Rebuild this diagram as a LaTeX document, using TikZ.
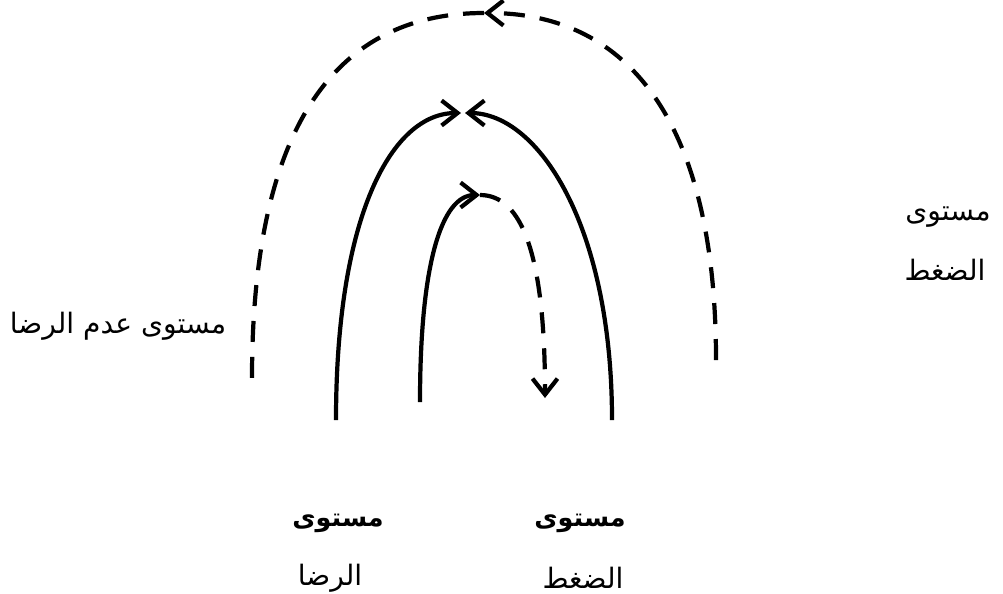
\documentclass[tikz,border=0pt]{standalone}
\usepackage{fontspec}
\newfontfamily\arabicfont[Script=Arabic]{DejaVu Sans}
\TeXXeTstate=1
\usetikzlibrary{arrows.meta,positioning}

\begin{document}
\begin{tikzpicture}[x=0.02cm, y=-0.02cm,
  curve/.style={line width=2.4pt},
  dashcurve/.style={line width=2.4pt, dash pattern=on 0.42cm off 0.3cm},
  arrow/.style={-{Straight Barb[length=0.32cm, width=0.5cm, line width=2.4pt]}},
  label/.style={font=\arabicfont\fontsize{16}{18}\selectfont, inner sep=0pt},
  boldlabel/.style={label, font=\arabicfont\bfseries\fontsize{14.5}{17}\selectfont}
]
\useasboundingbox (0,0) rectangle (1003,593);

% end points of the curves
\coordinate (outerL) at (252,378);
\coordinate (outerR) at (716,360);
\coordinate (outerTop) at (484,13);
\coordinate (midL) at (336,420);
\coordinate (midR) at (612,420);
\coordinate (midTopL) at (461,113);
\coordinate (midTopR) at (465,113);
\coordinate (innerL) at (420,402);
\coordinate (innerTop) at (480,195);
\coordinate (innerEnd) at (545,398);

% outer dashed loop
\draw[dashcurve, arrow] (outerR) .. controls (716,110) and (620,13) .. (outerTop);
\draw[dashcurve] (outerTop) .. controls (340,13) and (252,120) .. (outerL);

% middle solid loop
\draw[curve, arrow] (midL) .. controls (336,215) and (392,113) .. (midTopL);
\draw[curve, arrow] (midR) .. controls (612,225) and (538,113) .. (midTopR);

% inner loop
\draw[curve, arrow] (innerL) .. controls (420,262) and (442,195) .. (innerTop);
\draw[dashcurve, arrow] (innerTop) .. controls (522,195) and (545,255) .. (innerEnd);

% labels
\node[label] (dissat) at (118,326) {\beginR مستوى عدم الرضا\endR};
\node[label] (pressR1) at (948,217) {\beginR مستوى\endR};
\node[label] (pressR2) at (945,270) {\beginR الضغط\endR};
\node[boldlabel] (satis1) at (338,523) {\beginR مستوى\endR};
\node[label] (satis2) at (330,578) {\beginR الرضا\endR};
\node[boldlabel] (press1) at (580,523) {\beginR مستوى\endR};
\node[label] (press2) at (583,578) {\beginR الضغط\endR};
\end{tikzpicture}
\end{document}
